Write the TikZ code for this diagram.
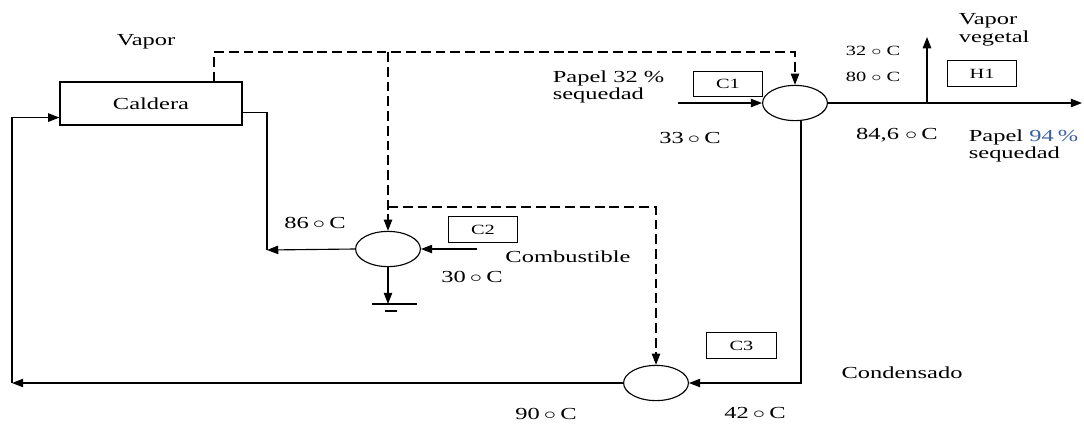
\documentclass[tikz,border=0pt]{standalone}
\usepackage{fontspec}
\setmainfont{Liberation Serif}
\usepackage{graphicx}
\usepackage{tikz}
\usetikzlibrary{arrows.meta,positioning,shapes.geometric}

\definecolor{pct}{RGB}{60,95,160}
\newcommand{\dg}{\ensuremath{\circ}}
\newcommand{\sx}[1]{\scalebox{1.45}[1]{#1}}

\begin{document}
\begin{tikzpicture}[
    x=0.025cm, y=-0.025cm,
    line width=0.8pt,
    every node/.style={font=\fontsize{12}{12.5}\selectfont, inner sep=1pt},
    lbl/.style={xscale=1.45, transform shape},
    unit/.style={ellipse, draw, minimum width=1.62cm, minimum height=0.88cm, inner sep=0pt},
    tag/.style={rectangle, draw, minimum width=1.74cm, minimum height=0.63cm,
                inner sep=0pt, font=\fontsize{10}{11}\selectfont},
    e/.style={-{Triangle[length=8pt, width=6pt]}},
    steam/.style={dash pattern=on 7pt off 3.5pt},
    sml/.style={lbl, font=\fontsize{10}{11}\selectfont},
  ]
  \useasboundingbox (0,0) rectangle (1084,423);
  % equipos
  \node[rectangle, draw, minimum width=4.55cm, minimum height=1.075cm] (caldera) at (151,103.5) {\sx{Caldera}};
  \node[unit] (c1u) at (795,103) {};
  \node[unit] (c2u) at (388,249) {};
  \node[unit] (c3u) at (656,383) {};
  \node[tag] (tc1) at (728,84) {\sx{C1}};
  \node[tag] (tc2) at (483,229.5) {\sx{C2}};
  \node[tag] (tc3) at (741.5,345.5) {\sx{C3}};
  \node[tag] (th1) at (982,73.5) {\sx{H1}};
  % textos
  \node[lbl] (vap) at (146,42) {Vapor};
  \node[lbl, anchor=west, align=left] (pin_t) at (550,87) {Papel 32 \%\\sequedad};
  \node[lbl] (t33) at (690,138) {33\,\dg\,C};
  \node[sml] (t32) at (873,51) {32 \dg{} C};
  \node[sml] (t80) at (873,77) {80 \dg{} C};
  \node[lbl, anchor=west, align=left] (vv_t) at (956,30) {Vapor\\vegetal};
  \node[lbl] (t846) at (897,135) {84,6 \dg\,C};
  \node[lbl, anchor=west, align=left] (pout_t) at (966,146) {Papel\ {\color{pct}94\,\%}\\sequedad};
  \node[lbl] (t86) at (315,223) {86\,\dg\,C};
  \node[lbl] (t30) at (472,277) {30\,\dg\,C};
  \node[lbl] (comb) at (568,257) {Combustible};
  \node[lbl] (cond) at (902,373) {Condensado};
  \node[lbl] (t90) at (546,414) {90\,\dg\,C};
  \node[lbl] (t42) at (755,413) {42\,\dg\,C};
  % puntos libres
  \coordinate (vs) at (214,52);
  \coordinate (vj) at (388,52);
  \coordinate (vk) at (388,207);
  \coordinate (k1) at (267,250);
  \coordinate (fu) at (477,249);
  \coordinate (gd) at (388,304);
  \coordinate (pin) at (678,103);
  \coordinate (pout) at (1082,103);
  \coordinate (vv) at (927,37);
  \coordinate (k2) at (801,383);
  \coordinate (k3) at (12,383);
  % vapor
  \draw[steam, e] (caldera.north -| vs) -- (vs) -| (c1u.north);
  \draw[steam, e] (vj) -- (c2u.north);
  \draw[steam, e] (vk) -| (c3u.north);
  % corrientes
  \draw ([yshift=0.325cm]caldera.south east) -| (k1);
  \draw[e] (c2u.west) -- (k1);
  \draw[e] (fu) -- (c2u.east);
  \draw[e] (c2u.south) -- (gd);
  \draw (gd) ++(-16,0) -- ++(45,0);
  \draw (gd) ++(-3,7) -- ++(12,0);
  \draw[e] (pin) -- (c1u.west);
  \draw[e] (c1u.east) -- (pout);
  \draw[e] (c1u.east -| vv) -- (vv);
  \draw[e] (c1u.south -| k2) -- (k2) -- (c3u.east);
  \draw[e] (c3u.west) -- (k3);
  \draw[e] (k3) |- ([yshift=0.2cm]caldera.south west);
\end{tikzpicture}
\end{document}
